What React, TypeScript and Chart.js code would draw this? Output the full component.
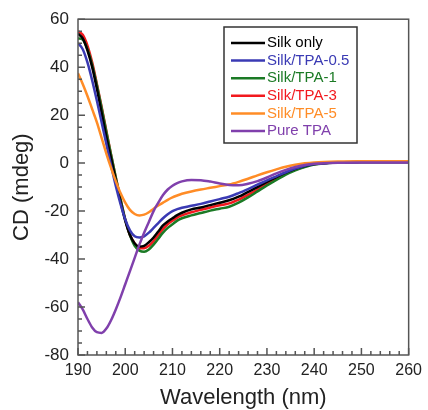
import React, { useEffect, useRef } from "react";
import { Chart, registerables } from "chart.js";

Chart.register(...registerables);

const wavelengths = [190, 191, 192, 193, 194, 195, 196, 197, 198, 199, 200, 201, 202, 203, 204, 205, 206, 207, 208, 209, 210, 211, 212, 214, 216, 218, 220, 222, 224, 226, 228, 230, 232, 234, 236, 238, 240, 245, 250, 255, 260];

const silkOnly = [54, 52, 47, 40, 31, 21, 11, 2, -7, -16, -24, -30, -33.5, -34.8, -34.5, -33, -31, -28.5, -26, -24.3, -23, -21.7, -20.7, -19.3, -18.5, -17.5, -16.5, -15.5, -14, -12, -10, -7.8, -5.8, -4, -2.4, -1.2, -0.4, 0.3, 0.5, 0.5, 0.5];
const silkTpa05 = [50, 47.5, 42, 34.5, 26, 17, 8, -1, -9.5, -17, -23.5, -28, -30.5, -31, -30.5, -29, -27, -25, -23, -21.3, -20, -19.2, -18.6, -17.8, -17, -16, -15, -14, -12.5, -10.8, -9, -7.2, -5.5, -3.8, -2.3, -1.1, -0.4, 0.3, 0.5, 0.5, 0.5];
const silkTpa1 = [52, 51.5, 47.5, 41, 32.5, 23, 13, 3.5, -6, -15, -23.5, -30, -34.5, -36.5, -37, -36, -34, -31.5, -29, -27, -25.5, -24, -23, -21.8, -20.8, -19.8, -19, -18.2, -16.5, -14.3, -11.8, -9.3, -7, -4.8, -3, -1.6, -0.6, 0.3, 0.5, 0.5, 0.5];
const silkTpa3 = [55, 53.5, 49, 42, 33, 23.5, 13.5, 3.5, -6, -15, -23.5, -30, -33.5, -35.5, -35.5, -34.5, -32.5, -30, -27.5, -25.5, -24, -22.7, -21.8, -20.5, -19.5, -18.5, -17.6, -16.8, -15.2, -13.2, -11, -8.6, -6.4, -4.4, -2.7, -1.4, -0.5, 0.3, 0.5, 0.5, 0.5];
const silkTpa5 = [37.5, 33, 28, 22.5, 17, 10.5, 4, -2, -7.5, -12.5, -16.5, -19.5, -21.2, -21.8, -21.5, -20.5, -19, -17.7, -16.5, -15.3, -14.3, -13.5, -12.8, -11.8, -11, -10.3, -9.6, -8.9, -7.8, -6.5, -5.1, -3.8, -2.6, -1.5, -0.7, -0.1, 0.3, 0.7, 0.8, 0.8, 0.8];
const pureTpa = [-58, -61, -65, -68.5, -70.5, -70.8, -69, -65.5, -61, -56, -50.5, -45, -39.5, -34, -29, -24.5, -20, -16.5, -13.3, -11, -9.4, -8.3, -7.6, -7, -7.1, -7.7, -8.5, -9.1, -9.2, -8.6, -7.5, -6, -4.3, -2.8, -1.6, -0.8, -0.3, 0.2, 0.3, 0.3, 0.3];

const seriesLabels = ["Silk only", "Silk/TPA-0.5", "Silk/TPA-1", "Silk/TPA-3", "Silk/TPA-5", "Pure TPA"];
const seriesColors = ["#000000", "#3a3ab4", "#1b7a25", "#f2191e", "#ff8c26", "#8040ac"];
const seriesValues = [silkOnly, silkTpa05, silkTpa1, silkTpa3, silkTpa5, pureTpa];

const frameAndTicks = {
  id: "frameAndTicks",
  afterDatasetsDraw(chart: any) {
    const { ctx, chartArea, scales } = chart;
    const xs = scales.x;
    const ys = scales.y;
    ctx.save();
    ctx.strokeStyle = "#555";
    ctx.lineWidth = 1.5;
    ctx.strokeRect(chartArea.left, chartArea.top, chartArea.right - chartArea.left, chartArea.bottom - chartArea.top);
    ctx.beginPath();
    for (let v = 190; v <= 260; v += 2) {
      const px = xs.getPixelForValue(v);
      const len = v % 10 === 0 ? 7 : 4;
      ctx.moveTo(px, chartArea.bottom);
      ctx.lineTo(px, chartArea.bottom - len);
    }
    for (let v = -80; v <= 60; v += 5) {
      const py = ys.getPixelForValue(v);
      const len = v % 20 === 0 ? 7 : 4;
      ctx.moveTo(chartArea.left, py);
      ctx.lineTo(chartArea.left + len, py);
    }
    ctx.stroke();

    // legend
    const bx = 224, by = 27, bw = 133, bh = 116;
    ctx.fillStyle = "#fff";
    ctx.fillRect(bx, by, bw, bh);
    ctx.strokeStyle = "#333";
    ctx.lineWidth = 1.5;
    ctx.strokeRect(bx, by, bw, bh);
    ctx.font = "15px 'Liberation Sans', Arial, sans-serif";
    ctx.textBaseline = "middle";
    ctx.textAlign = "left";
    chart.data.datasets.forEach((ds: any, i: number) => {
      const y = 43 + i * 17.6;
      ctx.strokeStyle = ds.borderColor;
      ctx.lineWidth = 2.5;
      ctx.beginPath();
      ctx.moveTo(231, y);
      ctx.lineTo(265, y);
      ctx.stroke();
      ctx.fillStyle = ds.borderColor;
      ctx.fillText(ds.label, 267, y);
    });
    ctx.restore();
  },
};

export default function App() {
  const ref = useRef<HTMLCanvasElement>(null);
  useEffect(() => {
    document.body.style.margin = "0";
    const drawOrder = [3, 2, 4, 5, 1, 0];
    const chart = new Chart(ref.current as HTMLCanvasElement, {
      type: "line",
      data: {
        datasets: seriesLabels.map((label, i) => ({
          label,
          data: wavelengths.map((w, j) => ({ x: w, y: seriesValues[i][j] })),
          borderColor: seriesColors[i],
          backgroundColor: seriesColors[i],
          borderWidth: 2.5,
          pointRadius: 0,
          cubicInterpolationMode: "monotone" as const,
          order: drawOrder[i],
        })),
      },
      options: {
        animation: false,
        responsive: true,
        maintainAspectRatio: false,
        layout: { padding: { top: 19, right: 13, left: 0, bottom: 0 } },
        plugins: { legend: { display: false }, tooltip: { enabled: false } },
        scales: {
          x: {
            type: "linear",
            min: 190,
            max: 260,
            grid: { display: false, drawTicks: false },
            border: { display: false },
            ticks: { stepSize: 10, padding: 6, color: "#222", font: { size: 16, family: "'Liberation Sans', Arial, sans-serif" }, maxRotation: 0 },
            title: { display: true, text: "Wavelength (nm)", color: "#222", font: { size: 22, family: "'Liberation Sans', Arial, sans-serif", lineHeight: 1 }, padding: { top: 0, bottom: 1 } },
            afterFit: (s: any) => { s.height = 55; },
          },
          y: {
            type: "linear",
            min: -80,
            max: 60,
            grid: { display: false, drawTicks: false },
            border: { display: false },
            ticks: { stepSize: 20, padding: 9, color: "#222", font: { size: 17, family: "'Liberation Sans', Arial, sans-serif" } },
            title: { display: true, text: "CD (mdeg)", color: "#222", font: { size: 22, family: "'Liberation Sans', Arial, sans-serif", lineHeight: 1 }, padding: { top: 11, bottom: 0 } },
            afterFit: (s: any) => { s.width = 78; },
          },
        },
      },
      plugins: [frameAndTicks],
    });
    return () => chart.destroy();
  }, []);
  return (
    <div style={{ width: 428, height: 410, position: "relative" }}>
      <canvas ref={ref} />
    </div>
  );
}
